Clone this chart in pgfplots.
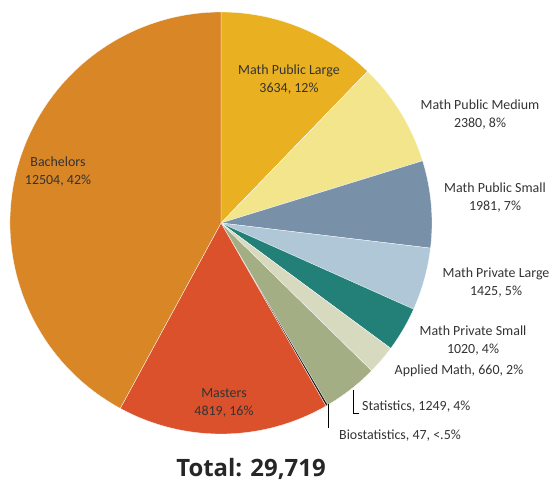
\documentclass[border=0pt]{standalone}
\usepackage{pgfplots}
\pgfplotsset{compat=1.18}
\usepackage{pgfplotstable}
\usepackage{fontspec}
\setmainfont{Carlito}
\newfontfamily\titlefont{Open Sans}

\definecolor{cMPL}{HTML}{E9B121}
\definecolor{cMPM}{HTML}{F3E58B}
\definecolor{cMPS}{HTML}{7891A8}
\definecolor{cMVL}{HTML}{AFC7D7}
\definecolor{cMVS}{HTML}{238079}
\definecolor{cAPP}{HTML}{D8DAC0}
\definecolor{cSTA}{HTML}{A3AE85}
\definecolor{cBIO}{HTML}{1E1E1E}
\definecolor{cMAS}{HTML}{DB512B}
\definecolor{cBAC}{HTML}{D98627}
\definecolor{txt}{HTML}{333333}

% degrees awarded, clockwise from 12 o'clock
\pgfplotstableread[col sep=comma]{
name,value,color
Math Public Large,3634,cMPL
Math Public Medium,2380,cMPM
Math Public Small,1981,cMPS
Math Private Large,1425,cMVL
Math Private Small,1020,cMVS
Applied Math,660,cAPP
Statistics,1249,cSTA
Biostatistics,47,cBIO
Masters,4819,cMAS
Bachelors,12504,cBAC
}\piedata

\tikzset{lab/.style={font=\fontsize{14}{18}\selectfont, text=txt, align=center, inner sep=0pt}}

\begin{document}
\begin{tikzpicture}
\begin{axis}[
  width=559bp, height=481bp, scale only axis,
  xmin=0, xmax=559, ymin=0, ymax=481, y dir=reverse,
  hide axis, clip=false,
]
  \pgfplotstablegetrowsof{\piedata}
  \pgfmathtruncatemacro{\last}{\pgfplotsretval-1}
  % total in hundreds (keeps pgfmath in range)
  \def\tot{0}
  \pgfplotsforeachungrouped \i in {0,...,\last}{
    \pgfplotstablegetelem{\i}{value}\of\piedata
    \pgfmathsetmacro{\tot}{\tot+\pgfplotsretval/100}
  }
  \def\ang{90}
  \pgfplotsforeachungrouped \i in {0,...,\last}{
    \pgfplotstablegetelem{\i}{value}\of\piedata
    \pgfmathsetmacro{\nxt}{\ang-((\pgfplotsretval/100)/\tot)*360}
    \pgfplotstablegetelem{\i}{color}\of\piedata
    \edef\temp{\noexpand\fill[\pgfplotsretval, draw=white, line width=0.3pt]
      (axis cs:221,223) -- ++(\ang:211bp)
      arc[start angle=\ang, end angle=\nxt, radius=211bp] -- cycle;}
    \temp
    \let\ang\nxt
  }

  \node[lab] at (axis cs:289,80) {Math Public Large\\3634, 12\%};
  \node[lab] at (axis cs:480,115) {Math Public Medium\\2380, 8\%};
  \node[lab] at (axis cs:495,198) {Math Public Small\\1981, 7\%};
  \node[lab] at (axis cs:496,283) {Math Private Large\\1425, 5\%};
  \node[lab] at (axis cs:473,341) {Math Private Small\\1020, 4\%};
  \node[lab] at (axis cs:459,371) {Applied Math, 660, 2\%};
  \node[lab, anchor=west] at (axis cs:362,407) {Statistics, 1249, 4\%};
  \node[lab, anchor=west] at (axis cs:339,436) {Biostatistics, 47, <.5\%};
  \node[lab] at (axis cs:58,172) {Bachelors\\12504, 42\%};
  \node[lab] at (axis cs:224,403) {Masters\\4819, 16\%};

  \draw[black, line width=0.8pt] (axis cs:353,390) -- (axis cs:353,413) -- (axis cs:359,413);
  \draw[black, line width=0.8pt] (axis cs:328,404) -- (axis cs:328,428);

  \node[font=\titlefont\bfseries\fontsize{24}{28}\selectfont, text=black!85, inner sep=0pt, anchor=base]
    at (axis cs:251,476) {Total: 29,719};
\end{axis}
\pgfresetboundingbox
\path (current axis.south west) rectangle (current axis.north east);
\end{tikzpicture}
\end{document}
